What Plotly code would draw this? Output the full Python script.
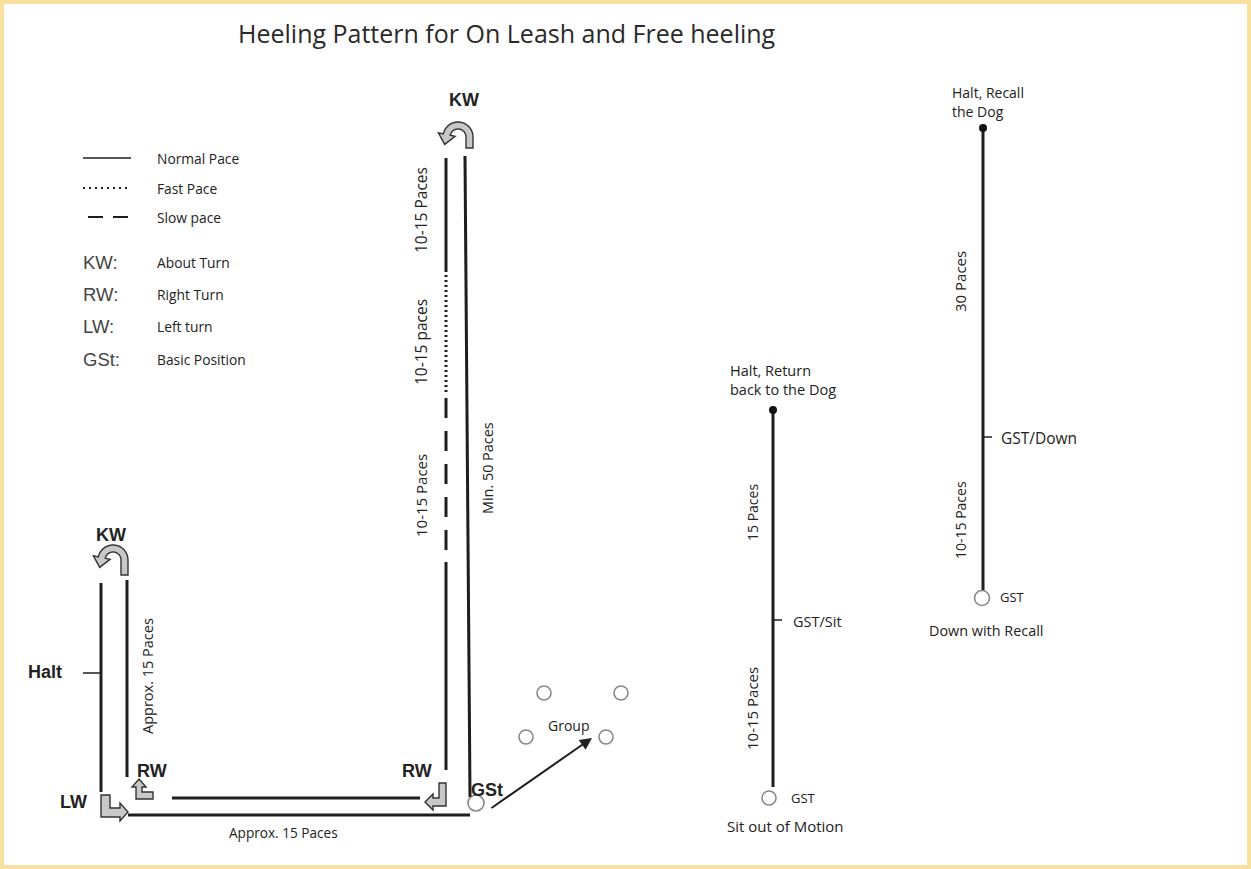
import numpy as np
import plotly.graph_objects as go

W, H = 1251, 869
TITLE = "Heeling Pattern for On Leash and Free heeling"

# ---------------- path data (image units, y grows downward; None = break) ----------
normal_x = [101, 101, None, 127, 127, None, 172, 420, None, 128, 470, None,
            446, 446, None, 446, 446, None, 465, 470, None, 773, 773, None, 983, 983]
normal_y = [583, 792, None, 580, 777, None, 798, 798, None, 815, 815, None,
            158, 272, None, 562, 770, None, 156, 797, None, 410, 787, None, 128, 590]
tick_x = [83, 101, None, 773, 782, None, 983, 992]
tick_y = [673, 673, None, 620, 620, None, 437, 437]
fast_x = [446, 446]
fast_y = [275, 392]
slow_x = [446, 446]
slow_y = [398, 560]

# legend
legend_line_x = [[83, 131], [83, 131], [88, 130]]
legend_line_y = [158, 188, 217]
legend_dash = ["solid", "2px,4px", "15px,10px"]
legend_labels = ["Normal Pace", "Fast Pace", "Slow pace"]
legend_codes = ["KW:", "RW:", "LW:", "GSt:"]
legend_code_text = ["About Turn", "Right Turn", "Left turn", "Basic Position"]
legend_code_y = [262, 294, 326, 359]

# bold labels
bold_labels = ["KW", "Halt", "RW", "LW", "KW", "RW", "GSt"]
bold_x = [111, 45, 152, 73, 464, 417, 487]
bold_y = [535, 672, 771, 802, 100, 771, 790]

# rotated pace labels
pace_labels = ["Approx. 15 Paces", "10-15 Paces", "10-15 paces", "10-15 Paces",
               "Min. 50 Paces", "15 Paces", "10-15 Paces", "30 Paces", "10-15 Paces"]
pace_x = [147, 421, 421, 421, 487, 752, 752, 960, 960]
pace_y = [676, 210, 342, 496, 468, 513, 709, 282, 520]
pace_size = [14.5, 15.5, 15.5, 15, 14.4, 14, 15, 15, 14]

# horizontal small labels (left anchored)
note_labels = ["Halt, Return", "back to the Dog", "GST/Sit", "GST",
               "Halt, Recall", "the Dog", "GST/Down", "GST"]
note_x = [728, 728, 791, 789, 950, 950, 999, 998]
note_y = [370, 389, 621, 798, 92, 111, 438, 597]
note_size = [14.5, 14.5, 14.5, 13, 14, 14, 15.5, 13]

# centered small labels
center_labels = ["Approx. 15 Paces", "Group", "Sit out of Motion", "Down with Recall"]
center_x = [283, 568, 785, 986]
center_y = [832, 725, 826, 630]
center_size = [13.6, 14, 15, 14.4]

# positions (open circles) and end dots
circle_x = [476, 544, 621, 526, 606, 769, 982]
circle_y = [803, 693, 693, 737, 737, 798, 598]
circle_size = [16, 14, 14, 14, 14, 14, 15]
dot_x = [773, 983]
dot_y = [410, 128]

# group arrow (tail -> head)
arrow_tail = (490, 809)
arrow_head = (592, 738)

# turn glyph anchors
about_turn_centers = [(113, 560, 15), (458, 137, 11)]

INK = "#1e1e1e"
TXT = "Open Sans"


def poly_path(pts):
    return "M " + " L ".join(f"{x:.1f},{y:.1f}" for x, y in pts) + " Z"


def about_turn(cx, cy, leg, ro=15, ri=8, end=168):
    th = np.radians(np.linspace(0, end, 30))
    outer = [(cx + ro * np.cos(t), cy - ro * np.sin(t)) for t in th]
    inner = [(cx + ri * np.cos(t), cy - ri * np.sin(t)) for t in th[::-1]]
    te = np.radians(end)
    rm = (ro + ri) / 2
    hw = (ro - ri) / 2 + 5
    tan = (-np.sin(te), -np.cos(te))
    mid = (cx + rm * np.cos(te), cy - rm * np.sin(te))
    b1 = (cx + (rm + hw) * np.cos(te), cy - (rm + hw) * np.sin(te))
    b2 = (cx + (rm - hw) * np.cos(te), cy - (rm - hw) * np.sin(te))
    tip = (mid[0] + 10 * tan[0], mid[1] + 10 * tan[1])
    pts = [(cx + ro, cy + leg)] + outer + [b1, tip, b2] + inner + [(cx + ri, cy + leg)]
    return poly_path(pts)


lw_glyph = [(101, 795), (110, 795), (110, 808), (120, 808), (120, 803), (128, 812),
            (120, 821), (120, 817), (101, 817)]
rw_left_glyph = [(139, 779), (146, 787), (142, 787), (142, 792), (153, 792), (153, 799),
                 (136, 799), (136, 787), (132, 787)]
rw_main_glyph = [(439, 783), (446, 783), (446, 806), (433, 806), (433, 810), (425, 802),
                 (433, 794), (433, 798), (439, 798)]

fig = go.Figure()

# main normal-pace lines
fig.add_trace(go.Scatter(x=normal_x, y=normal_y, mode="lines",
                         line=dict(color=INK, width=3), hoverinfo="skip"))
fig.add_trace(go.Scatter(x=tick_x, y=tick_y, mode="lines",
                         line=dict(color=INK, width=1.5), hoverinfo="skip"))
fig.add_trace(go.Scatter(x=fast_x, y=fast_y, mode="lines",
                         line=dict(color=INK, width=3, dash="2px,3px"), hoverinfo="skip"))
fig.add_trace(go.Scatter(x=slow_x, y=slow_y, mode="lines",
                         line=dict(color=INK, width=3, dash="20px,13px"), hoverinfo="skip"))

# legend lines
for lx, ly, ds in zip(legend_line_x, legend_line_y, legend_dash):
    fig.add_trace(go.Scatter(x=lx, y=[ly, ly], mode="lines",
                             line=dict(color=INK, width=2 if ds != "solid" else 1.5, dash=ds),
                             hoverinfo="skip"))

# circles & dots
fig.add_trace(go.Scatter(x=circle_x, y=circle_y, mode="markers",
                         marker=dict(symbol="circle-open", size=circle_size, color="#555",
                                     line=dict(width=1.6, color="#555")), hoverinfo="skip"))
fig.add_trace(go.Scatter(x=dot_x, y=dot_y, mode="markers",
                         marker=dict(symbol="circle", size=8, color="#111"), hoverinfo="skip"))

annotations = []
annotations.append(dict(x=507, y=33, text=TITLE, showarrow=False,
                        font=dict(family=TXT, size=25, color="#2a2a2a")))
for lab, ly in zip(legend_labels, legend_line_y):
    annotations.append(dict(x=155, y=ly, text=lab, showarrow=False, xanchor="left",
                            font=dict(family=TXT, size=13.8, color="#222")))
for code, lab, ly in zip(legend_codes, legend_code_text, legend_code_y):
    annotations.append(dict(x=81, y=ly, text=code, showarrow=False, xanchor="left",
                            font=dict(family="Liberation Sans", size=18.5, color="#444")))
    annotations.append(dict(x=155, y=ly, text=lab, showarrow=False, xanchor="left",
                            font=dict(family=TXT, size=13.8, color="#222")))
for lab, bx, by in zip(bold_labels, bold_x, bold_y):
    annotations.append(dict(x=bx, y=by, text=f"<b>{lab}</b>", showarrow=False,
                            font=dict(family="Liberation Sans", size=18, color="#222")))
for lab, px, py, ps in zip(pace_labels, pace_x, pace_y, pace_size):
    annotations.append(dict(x=px, y=py, text=lab, showarrow=False, textangle=-90,
                            font=dict(family=TXT, size=ps, color="#222")))
for lab, nx, ny, ns in zip(note_labels, note_x, note_y, note_size):
    annotations.append(dict(x=nx, y=ny, text=lab, showarrow=False, xanchor="left",
                            font=dict(family=TXT, size=ns, color="#222")))
for lab, cx, cy, cs in zip(center_labels, center_x, center_y, center_size):
    annotations.append(dict(x=cx, y=cy, text=lab, showarrow=False,
                            font=dict(family=TXT, size=cs, color="#222")))
annotations.append(dict(x=arrow_head[0], y=arrow_head[1], ax=arrow_tail[0], ay=arrow_tail[1],
                        axref="x", ayref="y", xref="x", yref="y", text="", showarrow=True,
                        arrowhead=2, arrowsize=1.2, arrowwidth=2, arrowcolor=INK))

shapes = [dict(type="rect", xref="paper", yref="paper", x0=0, y0=0, x1=1, y1=1,
               line=dict(color="#F8E1A0", width=8), fillcolor="rgba(0,0,0,0)", layer="above")]
glyph_style = dict(fillcolor="#c8c8c8", line=dict(color="#333", width=1.4), layer="above",
                   xref="x", yref="y", type="path")
for cx, cy, leg in about_turn_centers:
    shapes.append(dict(path=about_turn(cx, cy, leg), **glyph_style))
for g in (lw_glyph, rw_left_glyph, rw_main_glyph):
    shapes.append(dict(path=poly_path(g), **glyph_style))

fig.update_layout(
    width=W, height=H, margin=dict(l=0, r=0, t=0, b=0),
    paper_bgcolor="white", plot_bgcolor="white", showlegend=False,
    xaxis=dict(range=[0, W], visible=False, fixedrange=True),
    yaxis=dict(range=[H, 0], visible=False, fixedrange=True),
    annotations=annotations, shapes=shapes,
)

fig.write_html("out.html", config={"displayModeBar": False},
               post_script="document.body.style.margin='0';")
